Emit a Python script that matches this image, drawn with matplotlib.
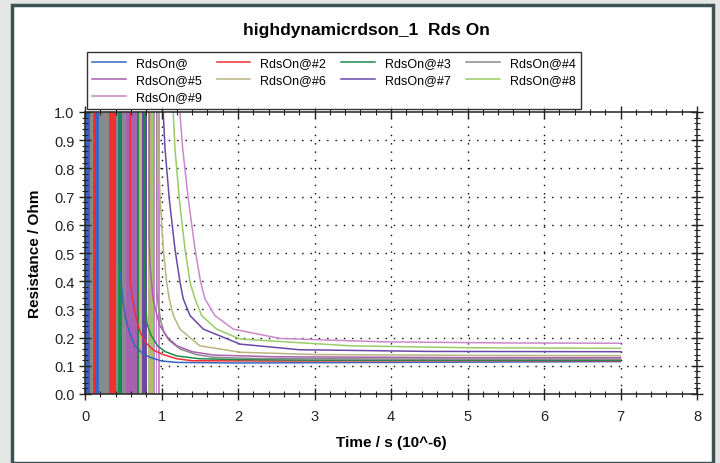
import matplotlib
matplotlib.use("Agg")
import matplotlib.pyplot as plt
from matplotlib.patches import Rectangle
from matplotlib.ticker import MultipleLocator

plt.rcParams['font.family'] = ['Liberation Sans', 'DejaVu Sans']

# ---------------- data ----------------
series_names = ["RdsOn@", "RdsOn@#2", "RdsOn@#3", "RdsOn@#4", "RdsOn@#5",
                "RdsOn@#6", "RdsOn@#7", "RdsOn@#8", "RdsOn@#9"]
series_colors = ["#3466c0", "#ee3030", "#1e8a4a", "#8a8a8a", "#a860b0",
                 "#b8b47c", "#6a48a8", "#98cc64", "#cc88cc"]

# decay part of each series after switching (time in 10^-6 s, resistance in Ohm)
t1 = [0.45, 0.45, 0.47, 0.50, 0.53, 0.58, 0.65, 0.75, 0.85, 1.00, 1.20, 2.0, 4.0, 7.0]
r1 = [1.50, 0.45, 0.40, 0.32, 0.27, 0.22, 0.17, 0.145, 0.13, 0.117, 0.112, 0.110, 0.112, 0.115]
t2 = [0.59, 0.59, 0.62, 0.66, 0.72, 0.80, 0.90, 1.02, 1.20, 1.40, 2.5, 5.0, 7.0]
r2 = [1.50, 0.40, 0.34, 0.28, 0.22, 0.18, 0.155, 0.14, 0.125, 0.118, 0.117, 0.118, 0.118]
t3 = [0.78, 0.78, 0.79, 0.81, 0.86, 0.95, 1.05, 1.20, 1.50, 2.0, 3.0, 7.0]
r3 = [1.50, 0.40, 0.337, 0.25, 0.21, 0.17, 0.15, 0.135, 0.125, 0.122, 0.120, 0.120]
t4 = [0.94, 0.94, 0.96, 0.99, 1.03, 1.10, 1.24, 1.45, 1.68, 2.2, 4.0, 7.0]
r4 = [1.50, 0.36, 0.31, 0.26, 0.22, 0.19, 0.16, 0.14, 0.13, 0.126, 0.124, 0.124]
t5 = [0.84, 0.84, 0.85, 0.89, 0.94, 0.98, 1.08, 1.20, 1.40, 1.68, 2.5, 5.0, 7.0]
r5 = [1.50, 0.55, 0.455, 0.337, 0.28, 0.242, 0.20, 0.171, 0.15, 0.138, 0.132, 0.129, 0.129]
t6 = [0.95, 0.95, 0.958, 0.982, 1.024, 1.067, 1.102, 1.155, 1.242, 1.50, 2.03, 3.0, 5.0, 7.0]
r6 = [1.50, 1.00, 0.87, 0.69, 0.514, 0.396, 0.337, 0.278, 0.23, 0.171, 0.148, 0.140, 0.137, 0.136]
t7 = [1.02, 1.024, 1.046, 1.102, 1.176, 1.242, 1.285, 1.373, 1.547, 2.026, 2.8, 4.5, 7.0]
r7 = [1.50, 0.99, 0.87, 0.69, 0.514, 0.396, 0.337, 0.278, 0.23, 0.177, 0.157, 0.151, 0.150]
t8 = [1.15, 1.155, 1.176, 1.233, 1.307, 1.373, 1.438, 1.525, 1.721, 2.026, 3.46, 5.0, 7.0]
r8 = [1.50, 0.99, 0.87, 0.69, 0.514, 0.396, 0.337, 0.278, 0.23, 0.195, 0.171, 0.164, 0.162]
t9 = [1.24, 1.242, 1.277, 1.351, 1.438, 1.512, 1.569, 1.699, 1.939, 2.549, 3.9, 5.5, 7.0]
r9 = [1.50, 0.99, 0.87, 0.69, 0.514, 0.396, 0.337, 0.278, 0.23, 0.197, 0.185, 0.181, 0.180]
decay_t = [t1, t2, t3, t4, t5, t6, t7, t8, t9]
decay_r = [r1, r2, r3, r4, r5, r6, r7, r8, r9]

# oscillating (switching) region, seen as vertical colour bands
band_start = [0.000, 0.015, 0.070, 0.105, 0.135, 0.180, 0.310, 0.400, 0.430, 0.480,
              0.530, 0.680, 0.710, 0.745, 0.830, 0.870, 0.895, 0.925, 0.960]
band_end   = [0.015, 0.070, 0.105, 0.135, 0.180, 0.310, 0.400, 0.430, 0.480, 0.530,
              0.680, 0.710, 0.745, 0.810, 0.870, 0.885, 0.910, 0.945, 0.975]
band_series = [0, 0, 3, 1, 0, 3, 1, 3, 2, 3,
               4, 2, 5, 6, 5, 7, 8, 8, 8]

# ---------------- figure ----------------
W, H = 720, 464
fig = plt.figure(figsize=(W / 100, H / 100), dpi=100, facecolor="#e4e6e6")
fig.patches.append(Rectangle((12 / W, 0), (713 - 12) / W, 1 - 6 / H,
                             transform=fig.transFigure, facecolor="white",
                             edgecolor="#3f5252", linewidth=2.5, zorder=-5))

ax = fig.add_axes([85 / W, 1 - 395 / H, (697 - 85) / W, (395 - 113) / H])
ax.set_zorder(2)

ax.set_xlim(0, 8)
ax.set_ylim(0, 1.0)
xt = list(range(9))
yt = [i / 10 for i in range(11)]

# dotted grid below the data
for v in xt[1:-1]:
    ax.axvline(v, color="black", linestyle=(0, (1, 5)), linewidth=1.0, zorder=0.5)
for v in yt[1:-1]:
    ax.axhline(v, color="black", linestyle=(0, (1, 5)), linewidth=1.0, zorder=0.5)

for s, e, k in zip(band_start, band_end, band_series):
    ax.axvspan(s, e, ymin=0, ymax=1, facecolor=series_colors[k], edgecolor="none", zorder=1)

lines = []
for name, col, tt, rr in zip(series_names, series_colors, decay_t, decay_r):
    ln, = ax.plot(tt, rr, color=col, linewidth=1.1, label=name, zorder=2)
    lines.append(ln)

ax.set_xticks(xt)
ax.set_yticks(yt)
ax.set_yticklabels([f"{v:.1f}" for v in yt])
ax.xaxis.set_minor_locator(MultipleLocator(0.2))
ax.yaxis.set_minor_locator(MultipleLocator(0.02))
ax.tick_params(which="major", direction="inout", length=9, width=1.0, labelsize=10.5,
               top=True, right=True, colors="#222222")
ax.tick_params(which="minor", direction="inout", length=5, width=0.8,
               top=True, right=True, colors="#222222")
ax.tick_params(axis="x", pad=6)
ax.tick_params(axis="y", pad=3)
for sp in ax.spines.values():
    sp.set_color("#333333")
    sp.set_linewidth(1.2)
ax.set_axisbelow(False)

ax.set_xlabel("Time / s (10^-6)", fontsize=11, fontweight="bold", labelpad=9)
ax.set_ylabel("Resistance / Ohm", fontsize=11, fontweight="bold", labelpad=9)

fig.text(366 / W, 1 - 31 / H, "highdynamicrdson_1  Rds On", ha="center", va="center",
         fontsize=12.5, fontweight="bold")

order = [0, 4, 8, 1, 5, 2, 6, 3, 7]
leg = fig.legend([lines[i] for i in order], [series_names[i] for i in order],
                 loc="upper left", bbox_to_anchor=(87 / W, 1 - 53 / H), ncol=4,
                 fontsize=9, frameon=True, fancybox=False, handlelength=2.7,
                 handletextpad=0.8, columnspacing=1.2, labelspacing=0.42,
                 borderpad=0.4, borderaxespad=0)
leg.get_frame().set_edgecolor("black")
leg.get_frame().set_linewidth(1.0)

fig.savefig("out.png", dpi=100, facecolor=fig.get_facecolor())
